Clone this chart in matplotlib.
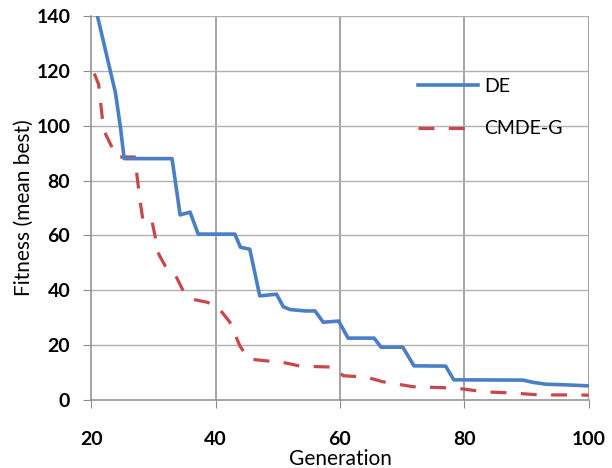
import matplotlib.pyplot as plt

# DE convergence curve
de_gen = [21.0, 23.9, 24.7, 25.3, 26, 33.0, 34.3, 35.9, 37.2, 43.1, 44.0, 45.5, 47.1,
          49.8, 50.9, 52.0, 54.5, 56.0, 57.3, 59.8, 61.3, 65.5, 66.6, 70.1, 71.9,
          77.0, 78.3, 89.4, 91, 93.1, 96, 100]
de_fit = [140, 112, 99.5, 88, 88, 88, 67.5, 68.5, 60.5, 60.5, 55.7, 55, 38,
          38.6, 34, 33, 32.5, 32.5, 28.4, 28.8, 22.6, 22.6, 19.3, 19.3, 12.5,
          12.4, 7.4, 7.3, 6.5, 5.8, 5.6, 5.2]

# CMDE-G convergence curve
cm_gen = [20.5, 21.2, 22.0, 24.1, 27.0, 27.9, 28.4, 29.8, 30.3, 30.9, 32.0, 33.6,
          34.8, 36.2, 38.6, 40.2, 42.3, 43.9, 45.3, 48.2, 50.3, 53.6, 59.3, 60.5,
          64.2, 66.9, 71.7, 78.6, 83.4, 87.8, 92.0, 98.4, 100]
cm_fit = [119, 115, 98.4, 88.6, 88.6, 71.8, 64.5, 65, 59.4, 53, 48.5, 45.3,
          39.8, 36.8, 35.7, 34.4, 28.4, 19.8, 15, 14.3, 14, 12.4, 12, 8.9,
          8.4, 6.7, 4.9, 4.4, 3, 2.6, 1.9, 1.9, 1.8]

plt.rcParams['font.family'] = ['Lato', 'DejaVu Sans']

fig = plt.figure(figsize=(6.12, 4.68), dpi=100)
ax = fig.add_axes([0.149, 0.145, 0.813, 0.821])

ax.set_xlim(20, 100)
ax.set_ylim(0, 140)
ax.set_xticks([20, 40, 60, 80, 100])
ax.set_yticks(range(0, 141, 20))

for x in [40, 60, 80, 100]:
    ax.axvline(x, color='#8c8c8c', lw=1.1, zorder=0)
for y in range(20, 141, 20):
    ax.axhline(y, color='#b0b0b0', lw=1.0, zorder=0)

for s in ['top', 'right']:
    ax.spines[s].set_visible(False)
for s in ['left', 'bottom']:
    ax.spines[s].set_color('#8c8c8c')
    ax.spines[s].set_linewidth(1.1)

ax.plot(de_gen, de_fit, color='#4a7fc8', lw=2.6, label='DE', zorder=3)
ax.plot(cm_gen, cm_fit, color='#c9474a', lw=2.3, linestyle=(0, (5, 4.5)),
        label='CMDE-G', zorder=2)

ax.tick_params(axis='both', direction='out', length=6, color='#8c8c8c',
               labelsize=14)
ax.tick_params(axis='x', pad=16)
ax.tick_params(axis='y', pad=9)
for t in ax.get_xticklabels() + ax.get_yticklabels():
    t.set_fontweight('bold')

ax.set_xlabel('Generation', fontsize=15)
ax.xaxis.set_label_coords(0.5, -0.128)
ax.set_ylabel('Fitness (mean best)', fontsize=15)
ax.yaxis.set_label_coords(-0.115, 0.5)

ax.legend(loc='upper left', bbox_to_anchor=(0.657, 0.838), frameon=False,
          fontsize=14, handlelength=3.1, handletextpad=0.3, labelspacing=1.3,
          borderpad=0, borderaxespad=0)

fig.savefig('out.png', dpi=100)
